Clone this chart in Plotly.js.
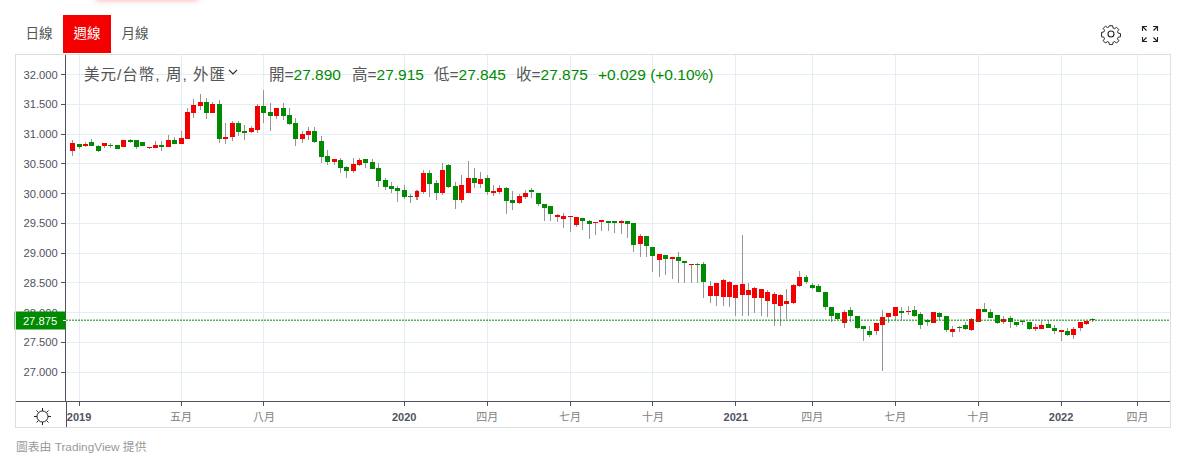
<!DOCTYPE html>
<html><head><meta charset="utf-8">
<script src="https://cdn.plot.ly/plotly-3.0.0.min.js"></script>
<style>
html,body{margin:0;padding:0;background:#fff;width:1183px;height:466px;overflow:hidden;font-family:"Liberation Sans","Noto Sans CJK TC",sans-serif}
#chart{position:absolute;left:0;top:0;width:1183px;height:466px}
.o{position:absolute}
.tab{position:absolute;top:15px;height:38px;line-height:38px;width:48px;text-align:center;font-size:13.5px;color:#555}
</style></head><body>
<div id="chart"></div>
<div class="o" style="left:96px;top:-8px;width:102px;height:8px;box-shadow:0 0 6px rgba(240,0,0,.35)"></div>
<div class="tab" style="left:15px">日線</div>
<div class="tab" style="left:63px;background:#f40000;color:#fff">週線</div>
<div class="tab" style="left:111px">月線</div>
<div class="o" style="left:15px;top:54px;width:1154px;height:372px;border:1px solid #dcdfe2;box-sizing:content-box;pointer-events:none"></div>
<div class="o" style="left:16px;top:401px;width:50px;height:1px;background:#50535e"></div>
<div class="o" style="left:66px;top:401px;width:1px;height:26px;background:#50535e"></div>
<div class="o" style="left:63px;top:320px;width:3px;height:1px;background:#fff"></div>
<div class="o" style="left:16px;top:437px;font-size:11.8px;color:#999">圖表由 TradingView 提供</div>
<svg class="o" style="left:228px;top:68px" width="10" height="8"><path d="M1 2 L5 6 L9 2" fill="none" stroke="#333" stroke-width="1.2"/></svg>
<svg class="o" style="left:33px;top:407px" width="19" height="19" viewBox="0 0 19 19"><circle cx="9.5" cy="9.5" r="5.5" fill="none" stroke="#222" stroke-width="1"/><path d="M9.5 1v3M9.5 15v3M1 9.5h3M15 9.5h3M3.5 3.5l2 2M13.5 13.5l2 2M3.5 15.5l2-2M13.5 5.5l2-2" stroke="#222" stroke-width="1"/></svg>
<svg class="o" style="left:1100px;top:23px" width="22" height="22" viewBox="0 0 22 22"><path d="M9.2 1.8h3.6l.5 2.6 1.7.7 2.2-1.5 2.5 2.5-1.5 2.2.7 1.7 2.6.5v3.6l-2.6.5-.7 1.7 1.5 2.2-2.5 2.5-2.2-1.5-1.7.7-.5 2.6H9.2l-.5-2.6-1.7-.7-2.2 1.5-2.5-2.5 1.5-2.2-.7-1.7-2.6-.5V9.2l2.6-.5.7-1.7-1.5-2.2 2.5-2.5 2.2 1.5 1.7-.7z" transform="translate(1.1 1.1) scale(.9)" fill="none" stroke="#222" stroke-width="1.1"/><circle cx="11" cy="11" r="3" fill="none" stroke="#222" stroke-width="1.1"/></svg>
<svg class="o" style="left:1141px;top:25px" width="18" height="18" viewBox="0 0 18 18"><path d="M1.5 6V1.5H6M12 1.5h4.5V6M1.5 12v4.5H6M12 16.5h4.5V12M1.5 1.5l4 4M16.5 1.5l-4 4M1.5 16.5l4-4M16.5 16.5l-4-4" fill="none" stroke="#222" stroke-width="1.1"/></svg>
<script>
const open = [
30.723,30.842,30.808,30.876,30.808,30.808,30.825,30.825,30.79,30.91,
30.91,30.876,30.774,30.774,30.825,30.79,30.91,30.842,30.927,31.35,
31.469,31.537,31.35,31.503,30.927,30.95,31.185,31.05,31.034,31.067,
31.47,31.37,31.30,31.44,31.32,31.185,30.916,30.983,31.05,30.88,
30.63,30.53,30.56,30.444,30.376,30.477,30.58,30.528,30.427,30.224,
30.123,30.09,30.056,29.955,29.94,30.022,30.356,30.172,30.005,30.49,
30.122,29.89,30.005,30.27,30.156,30.256,30.005,30.022,30.09,29.89,
29.84,29.94,30.07,30.005,29.82,29.79,29.605,29.57,29.605,29.47,
29.59,29.54,29.505,29.52,29.54,29.54,29.505,29.54,29.505,29.155,
29.29,29.105,28.89,28.97,28.905,28.94,28.87,28.805,28.82,28.82,
28.288,28.288,28.27,28.27,28.24,28.29,28.29,28.24,28.24,28.19,
28.14,28.12,28.155,28.17,28.455,28.605,28.47,28.455,28.355,28.09,
27.99,27.82,28.054,27.95,27.785,27.685,27.685,27.80,27.92,27.94,
28.037,28.02,28.054,27.985,27.885,27.82,27.99,27.94,27.67,27.755,
27.79,27.705,27.84,28.07,28.02,27.955,27.84,27.905,27.84,27.855,
27.84,27.72,27.72,27.805,27.74,27.67,27.69,27.62,27.74,27.805,
27.89];
const close = [
30.859,30.79,30.842,30.808,30.723,30.859,30.808,30.757,30.91,30.876,
30.79,30.808,30.79,30.825,30.79,30.91,30.842,30.943,31.367,31.486,
31.537,31.35,31.503,30.927,30.96,31.185,31.034,31.017,31.10,31.47,
31.354,31.30,31.44,31.30,31.17,30.916,31.0,31.05,30.865,30.61,
30.53,30.58,30.427,30.376,30.494,30.56,30.51,30.41,30.207,30.106,
30.073,30.04,29.94,29.94,30.04,30.356,30.156,30.005,30.39,30.106,
29.89,30.14,30.27,30.172,30.24,30.022,30.04,30.09,29.87,29.84,
29.955,30.005,30.022,29.82,29.755,29.655,29.64,29.62,29.62,29.605,
29.54,29.49,29.52,29.555,29.505,29.505,29.54,29.49,29.14,29.29,
29.12,28.955,28.99,28.905,28.94,28.87,28.84,28.82,28.805,28.52,
28.455,28.505,28.556,28.52,28.47,28.49,28.39,28.42,28.405,28.355,
28.32,28.29,28.205,28.47,28.605,28.52,28.42,28.34,28.10,27.94,
27.90,28.02,27.94,27.75,27.72,27.62,27.82,27.92,28.0,28.10,
28.0,28.037,27.95,27.80,27.85,28.02,27.92,27.705,27.72,27.74,
27.72,27.89,28.055,28.02,27.905,27.82,27.89,27.84,27.79,27.84,
27.72,27.755,27.79,27.74,27.69,27.705,27.62,27.72,27.84,27.855,
27.875];
const high = [
30.904,30.842,30.876,30.927,30.825,30.859,30.859,30.825,30.91,30.927,
30.91,30.876,30.79,30.893,30.893,30.994,30.96,31.045,31.435,31.588,
31.672,31.605,31.537,31.571,31.181,31.22,31.22,31.15,31.135,31.506,
31.74,31.52,31.44,31.52,31.44,31.27,31.05,31.118,31.118,30.966,
30.73,30.58,30.595,30.46,30.595,30.595,30.58,30.58,30.51,30.258,
30.19,30.122,30.14,29.99,30.07,30.406,30.39,30.222,30.52,30.506,
30.19,30.32,30.556,30.44,30.37,30.306,30.14,30.14,30.106,30.04,
29.99,30.056,30.09,30.005,29.82,29.79,29.655,29.67,29.62,29.605,
29.59,29.555,29.52,29.555,29.54,29.54,29.555,29.54,29.505,29.32,
29.29,29.105,28.99,28.97,28.94,29.02,28.87,28.82,28.84,28.855,
28.54,28.505,28.57,28.54,28.47,29.31,28.505,28.44,28.405,28.39,
28.34,28.32,28.405,28.49,28.706,28.64,28.505,28.49,28.355,28.09,
28.0,28.04,28.10,27.95,27.785,27.785,27.835,28.04,28.0,28.10,
28.10,28.12,28.12,28.02,27.90,28.02,28.005,27.94,27.77,27.77,
27.84,27.905,28.07,28.17,28.055,27.955,27.94,27.94,27.84,27.87,
27.84,27.805,27.855,27.87,27.79,27.705,27.74,27.755,27.84,27.855,
27.915];
const low = [
30.638,30.757,30.79,30.808,30.706,30.774,30.774,30.757,30.79,30.859,
30.757,30.808,30.757,30.774,30.723,30.79,30.842,30.842,30.927,31.266,
31.40,31.249,31.35,30.859,30.842,30.88,30.966,30.90,31.017,31.017,
31.185,31.05,31.25,31.236,31.15,30.80,30.85,30.90,30.85,30.51,
30.477,30.477,30.34,30.258,30.34,30.46,30.427,30.41,30.12,30.056,
30.005,29.855,29.905,29.84,29.89,29.99,29.94,29.89,29.97,30.09,
29.74,29.84,30.005,30.09,30.09,29.97,29.955,29.99,29.655,29.72,
29.82,29.905,29.92,29.79,29.54,29.54,29.52,29.42,29.355,29.44,
29.39,29.24,29.305,29.37,29.37,29.34,29.32,29.255,29.02,28.94,
28.94,28.69,28.6,28.64,28.57,28.505,28.505,28.505,28.505,28.255,
28.17,28.12,28.12,28.10,27.95,27.95,27.95,27.99,27.94,27.92,
27.785,27.77,27.90,28.14,28.44,28.49,28.405,28.34,28.04,27.85,
27.87,27.75,27.85,27.72,27.52,27.60,27.62,27.015,27.835,27.87,
27.885,27.97,27.92,27.735,27.785,27.82,27.87,27.67,27.59,27.67,
27.705,27.69,27.84,28.005,27.905,27.805,27.805,27.74,27.755,27.79,
27.705,27.69,27.72,27.74,27.64,27.52,27.605,27.555,27.69,27.79,
27.845];

const xTickWeeks = [1,17,30,52,65,78,91,104,116,129,142,155,167];
const xTickLabels = ['2019','五月','八月','2020','四月','七月','十月','2021','四月','七月','十月','2022','四月'];
const yTicks = [27,27.5,28,28.5,29,29.5,30,30.5,31,31.5,32];
const instrument = '美元/台幣, 周, 外匯';
const ohlcLabels = ['開','高','低','收'];
const ohlcValues = ['27.890','27.915','27.845','27.875'];
const changeText = '+0.029 (+0.10%)';

const UP='#f40000', DOWN='#008a00', TEXT='#50535e';
const weeks = open.map((_,i)=>i);
const bodyBase = open.map((o,i)=>Math.min(o,close[i]));
const bodySize = open.map((o,i)=>Math.max(Math.abs(o-close[i]),0.012));
const bodyColor = open.map((o,i)=>close[i]>=o?UP:DOWN);

const traces = [
 {type:'bar',x:weeks,base:low,y:high.map((h,i)=>h-low[i]),width:0.157,
  marker:{color:'#969696',line:{width:0}},hoverinfo:'skip',showlegend:false},
 {type:'bar',x:weeks,base:bodyBase,y:bodySize,width:0.78,
  marker:{color:bodyColor,line:{width:0}},hoverinfo:'skip',showlegend:false}
];
const G='#008a00', L='#555';
const legendFont={family:'"Liberation Sans","Noto Sans CJK TC",sans-serif',size:15.5,color:L};
function ann(text,shift){return {xref:'paper',yref:'y',x:0,y:32,xshift:shift,xanchor:'left',yanchor:'middle',showarrow:false,text:text,font:legendFont,borderpad:0};}
const pxs=[202,285,367,449];
const annotations=[ann('<span style="letter-spacing:1px">'+instrument+'</span>',17)];
ohlcLabels.forEach((l,i)=>annotations.push(ann(l+'=<span style="color:'+G+'">'+ohlcValues[i]+'</span>',pxs[i])));
annotations.push(ann('<span style="color:'+G+'">'+changeText+'</span>',531));
annotations.push({xref:'paper',yref:'y',x:0,y:close[close.length-1],xanchor:'right',yanchor:'middle',showarrow:false,
  text:close[close.length-1].toFixed(3),bgcolor:DOWN,width:50,height:17,borderpad:0,align:'center',
  font:{family:'"Liberation Sans",sans-serif',size:11.2,color:'#fff'}});

const layout={
 width:1183,height:466,paper_bgcolor:'rgba(0,0,0,0)',plot_bgcolor:'#fff',
 margin:{l:66,r:13,t:55,b:65,pad:0},
 barmode:'overlay',bargap:0,showlegend:false,
 font:{family:'"Liberation Sans","Noto Sans CJK TC",sans-serif',size:11,color:TEXT},
 xaxis:{type:'linear',range:[-1.04,172.08],tickmode:'array',tickvals:xTickWeeks,
  ticktext:xTickLabels.map(t=>/^\d/.test(t)?'<b>'+t+'</b>':'<span style="color:#808080">'+t+'</span>'),
  showgrid:true,gridcolor:'#e3edf3',gridwidth:1,zeroline:false,
  showline:true,linecolor:TEXT,linewidth:1,ticks:'outside',ticklen:4,tickcolor:TEXT,tickfont:{size:11,color:TEXT},ticklabelstandoff:2,fixedrange:true},
 yaxis:{range:[26.517,32.33],tickmode:'array',tickvals:yTicks,tickformat:'.3f',
  showgrid:true,gridcolor:'#e3edf3',gridwidth:1,zeroline:false,
  showline:true,linecolor:TEXT,linewidth:1,ticks:'outside',ticklen:4,tickcolor:TEXT,tickfont:{size:11.2,color:TEXT},ticklabelstandoff:1,fixedrange:true},
 shapes:[{type:'line',xref:'paper',yref:'y',x0:0,x1:1,y0:close[close.length-1],y1:close[close.length-1],
  line:{color:DOWN,width:1,dash:'2px,1px'},layer:'above'}],
 annotations:annotations
};
Plotly.newPlot('chart',traces,layout,{displayModeBar:false,staticPlot:true});
</script>
</body></html>
